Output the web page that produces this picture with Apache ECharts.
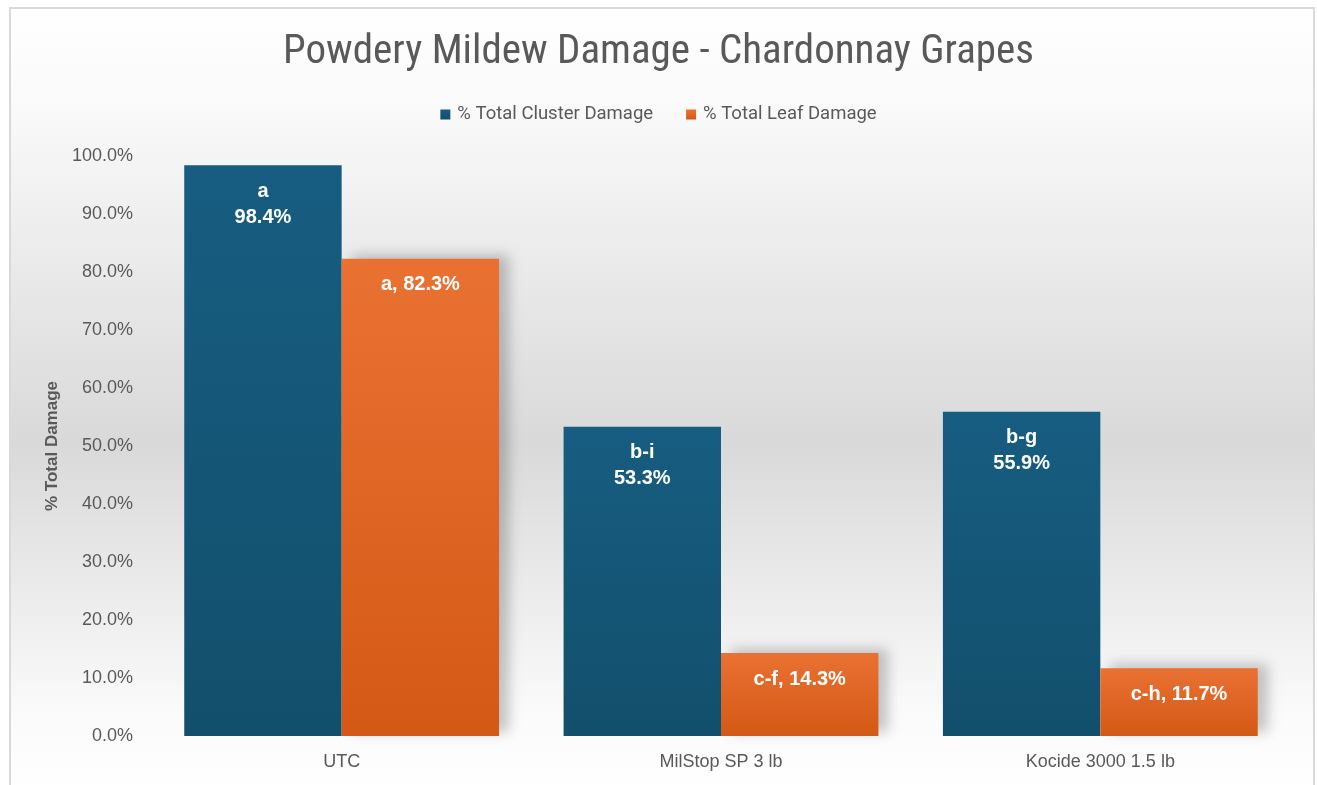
<!DOCTYPE html>
<html>
<head>
<meta charset="utf-8">
<script src="https://cdn.jsdelivr.net/npm/echarts@6/dist/echarts.min.js"></script>
<style>html,body{margin:0;padding:0;background:#fff}#c{width:1317px;height:785px}</style>
</head>
<body>
<div id="c"></div>
<script>
const categories = ['UTC', 'MilStop SP 3 lb', 'Kocide 3000 1.5 lb'];
const clusterDamage = [98.4, 53.3, 55.9];
const leafDamage = [82.3, 14.3, 11.7];
const clusterLetters = ['a', 'b-i', 'b-g'];
const leafLetters = ['a', 'c-f', 'c-h'];
const yTicks = { min: 0, max: 100, interval: 10 };

const chart = echarts.init(document.getElementById('c'));
const narrow = "'Roboto Condensed', 'Liberation Sans Narrow', 'Liberation Sans', sans-serif";
const sans = "'Liberation Sans', Arial, sans-serif";
chart.setOption({
  animation: false,
  graphic: [{
    type: 'rect', z: -10, silent: true,
    shape: { x: 10, y: 8, width: 1304, height: 790 },
    style: {
      fill: new echarts.graphic.LinearGradient(0, 0, 0, 1, [
        { offset: 0, color: '#ffffff' },
        { offset: 0.12, color: '#fafafa' },
        { offset: 0.55, color: '#d9d9d9' },
        { offset: 0.9, color: '#fbfbfb' },
        { offset: 1, color: '#ffffff' }
      ]),
      stroke: '#d9d9d9', lineWidth: 2
    }
  }],
  title: {
    text: 'Powdery Mildew Damage - Chardonnay Grapes',
    left: 'center', top: 27,
    textStyle: { fontFamily: narrow, fontSize: 41, fontWeight: 'normal', color: '#595959' }
  },
  legend: {
    top: 100, left: 'center', itemWidth: 10, itemHeight: 10, itemGap: 33,
    icon: 'rect',
    textStyle: { fontFamily: 'Roboto, sans-serif', fontSize: 18.5, color: '#595959', padding: [0, 0, 0, 2] },
    data: ['% Total Cluster Damage', '% Total Leaf Damage']
  },
  grid: { left: 152, right: 27, top: 156, bottom: 49 },
  xAxis: {
    type: 'category', data: categories,
    axisLine: { show: false }, axisTick: { show: false },
    axisLabel: { fontFamily: sans, fontSize: 18, color: '#595959', margin: 17 }
  },
  yAxis: {
    type: 'value', min: yTicks.min, max: yTicks.max, interval: yTicks.interval,
    name: '% Total Damage', nameLocation: 'middle', nameGap: 90,
    nameTextStyle: { fontFamily: sans, fontSize: 17, fontWeight: 'bold', color: '#595959' },
    splitLine: { show: false }, axisLine: { show: false }, axisTick: { show: false },
    axisLabel: {
      fontFamily: sans, fontSize: 18, color: '#595959', margin: 19,
      formatter: v => v.toFixed(1) + '%'
    }
  },
  series: [{
    name: '% Total Cluster Damage', type: 'bar', data: clusterDamage,
    barGap: '0%', barCategoryGap: '17%',
    itemStyle: {
      color: new echarts.graphic.LinearGradient(0, 0, 0, 1, [
        { offset: 0, color: '#175d81' }, { offset: 1, color: '#124f6c' }
      ])
    },
    label: {
      show: true, position: 'insideTop', distance: 13,
      formatter: p => clusterLetters[p.dataIndex] + '\n' + p.value.toFixed(1) + '%',
      color: '#fff', fontFamily: sans, fontWeight: 'bold', fontSize: 20, lineHeight: 26
    }
  }, {
    name: '% Total Leaf Damage', type: 'bar', data: leafDamage,
    itemStyle: {
      color: new echarts.graphic.LinearGradient(0, 0, 0, 1, [
        { offset: 0, color: '#e97132' }, { offset: 1, color: '#d45916' }
      ]),
      shadowColor: 'rgba(0,0,0,0.22)', shadowBlur: 12, shadowOffsetX: 10, shadowOffsetY: -4
    },
    label: {
      show: true, position: 'insideTop', distance: 15,
      formatter: p => leafLetters[p.dataIndex] + ', ' + p.value.toFixed(1) + '%',
      color: '#fff', fontFamily: sans, fontWeight: 'bold', fontSize: 20, lineHeight: 22
    }
  }],
  color: ['#175d81', '#e97132']
});
</script>
</body>
</html>
